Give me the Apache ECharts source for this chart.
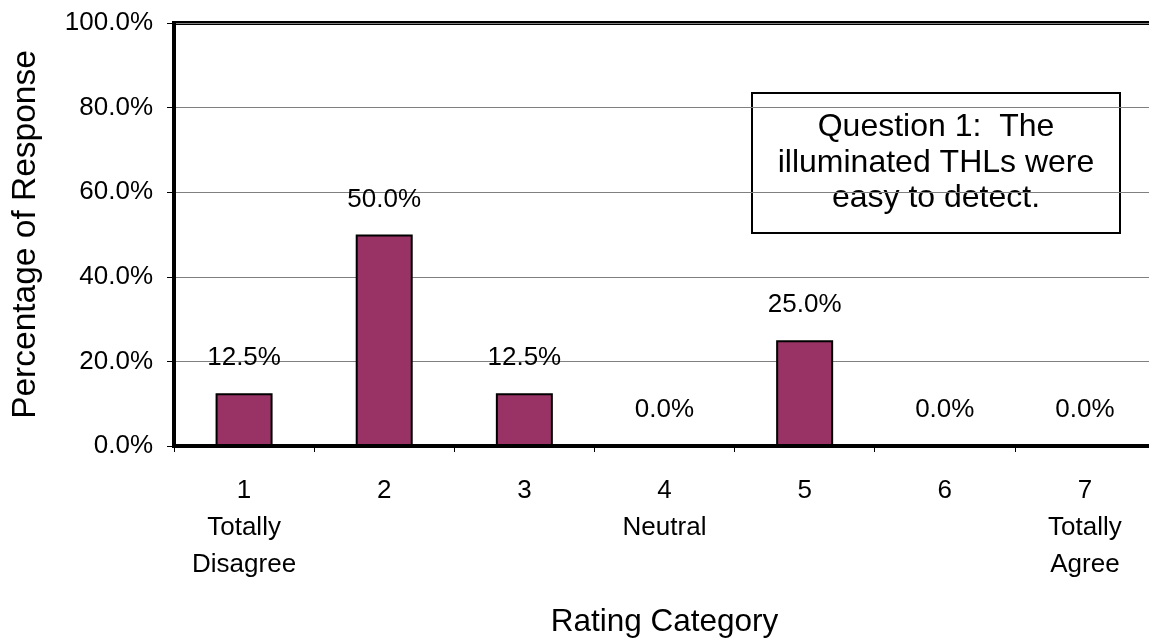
<!DOCTYPE html>
<html>
<head>
<meta charset="utf-8">
<script src="https://cdn.jsdelivr.net/npm/echarts@6/dist/echarts.min.js"></script>
<style>
  html, body { margin: 0; padding: 0; background: #fff; }
  #chart { width: 1149px; height: 642px; }
</style>
</head>
<body>
<div id="chart"></div>
<script>
// Survey responses for question 1
const ratingNumbers = ['1', '2', '3', '4', '5', '6', '7'];
const ratingDescriptors = ['Totally\nDisagree', '', '', 'Neutral', '', '', 'Totally\nAgree'];
const responsePercent = [12.5, 50.0, 12.5, 0.0, 25.0, 0.0, 0.0];
const yTicks = [0, 20, 40, 60, 80, 100];
const questionText = 'Question 1:  The\nilluminated THLs were\neasy to detect.';

const FONT = '"Liberation Sans", Arial, Helvetica, sans-serif';

const categories = ratingNumbers.map((n, i) =>
  ratingDescriptors[i] ? n + '\n' + ratingDescriptors[i] : n);

const chart = echarts.init(document.getElementById('chart'));
chart.setOption({
  animation: false,
  backgroundColor: '#ffffff',
  grid: {
    left: 174, top: 23, width: 981, height: 423,
    outerBoundsMode: 'none',
    containLabel: false,
    show: true, borderColor: '#000', borderWidth: 4,
    backgroundColor: 'transparent'
  },
  xAxis: {
    type: 'category',
    data: categories,
    name: 'Rating Category',
    nameLocation: 'middle',
    nameGap: 160,
    nameTextStyle: { fontFamily: FONT, fontSize: 31.5, color: '#000', verticalAlign: 'top' },
    axisLine: { show: true, lineStyle: { color: '#000', width: 4 } },
    axisTick: { show: true, alignWithLabel: false, length: 6, lineStyle: { color: '#000', width: 1 } },
    axisLabel: {
      fontFamily: FONT, fontSize: 26, color: '#000', lineHeight: 37,
      margin: 26, verticalAlign: 'top', interval: 0
    },
    splitLine: { show: false }
  },
  yAxis: {
    type: 'value',
    min: yTicks[0],
    max: yTicks[yTicks.length - 1],
    interval: yTicks[1] - yTicks[0],
    name: 'Percentage of Response',
    nameLocation: 'middle',
    nameRotate: 90,
    nameGap: 131,
    nameTextStyle: { fontFamily: FONT, fontSize: 33.5, color: '#000' },
    axisLine: { show: true, lineStyle: { color: '#000', width: 4 } },
    axisTick: { show: true, length: 7, lineStyle: { color: '#000', width: 1 } },
    axisLabel: {
      fontFamily: FONT, fontSize: 26, color: '#000', margin: 21,
      formatter: v => v.toFixed(1) + '%'
    },
    splitLine: { show: true, lineStyle: { color: '#808080', width: 1 } }
  },
  series: [{
    type: 'bar',
    data: responsePercent,
    barWidth: 57,
    itemStyle: { color: '#993366', borderColor: '#000', borderWidth: 2 },
    label: {
      show: true, position: 'top', distance: 22,
      fontFamily: FONT, fontSize: 26, color: '#000',
      formatter: p => p.value.toFixed(1) + '%'
    }
  }],
  graphic: [{
    type: 'group',
    left: 751, top: 92,
    children: [{
      type: 'rect',
      shape: { x: 0, y: 0, width: 368, height: 140 },
      style: { fill: '#fff', stroke: '#000', lineWidth: 2 }
    }, {
      type: 'text',
      x: 184, y: 70,
      style: {
        text: questionText,
        fontFamily: FONT, fontSize: 32, lineHeight: 35.5,
        fill: '#000', align: 'center', verticalAlign: 'middle'
      }
    }]
  }]
});
</script>
</body>
</html>
